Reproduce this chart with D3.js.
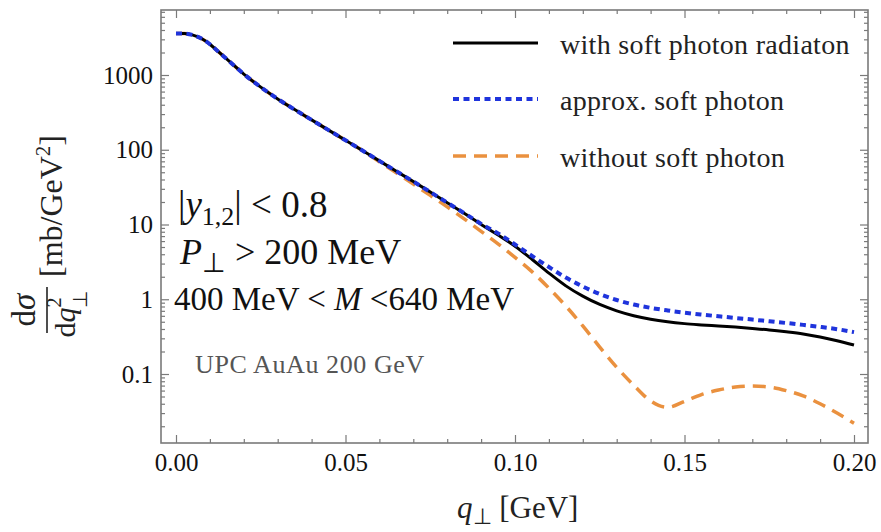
<!DOCTYPE html>
<html>
<head>
<meta charset="utf-8">
<script src="https://cdn.jsdelivr.net/npm/d3@7"></script>
<style>
  body { margin: 0; background: #fff; }
  svg text { font-family: "Liberation Serif", "Times New Roman", serif; }
</style>
</head>
<body>
<div id="chart"></div>
<script>
// q_perp grid [GeV] and cross sections [mb/GeV^2]
const qPerp = [0, 0.0025, 0.005, 0.0075, 0.01, 0.0125, 0.015, 0.02, 0.025, 0.03, 0.035, 0.04, 0.045, 0.05,
  0.055, 0.06, 0.065, 0.07, 0.075, 0.08, 0.085, 0.09, 0.095, 0.1, 0.105, 0.11, 0.115, 0.12, 0.125, 0.13,
  0.135, 0.14, 0.145, 0.15, 0.155, 0.16, 0.165, 0.17, 0.175, 0.18, 0.185, 0.19, 0.195, 0.2];

const withSoft = [3600, 3580, 3420, 3080, 2580, 2050, 1630, 1030, 689, 479, 345, 251, 183, 134,
  97.5, 71, 51.5, 37.6, 27.2, 19.6, 14.1, 10.0, 7.24, 5.13, 3.43, 2.24, 1.51, 1.10, 0.851, 0.70,
  0.603, 0.540, 0.499, 0.472, 0.454, 0.439, 0.424, 0.407, 0.389, 0.367, 0.343, 0.313, 0.279, 0.244];

const approxSoft = [3600, 3580, 3420, 3080, 2580, 2050, 1630, 1030, 689, 479, 345, 251, 183, 134,
  97.5, 71, 51.5, 37.6, 27.2, 19.6, 14.2, 10.2, 7.6, 5.4, 3.8, 2.7, 1.95, 1.48, 1.175, 0.977,
  0.851, 0.767, 0.708, 0.661, 0.624, 0.592, 0.562, 0.535, 0.507, 0.481, 0.454, 0.427, 0.398, 0.363];

const withoutSoft = [3600, 3580, 3420, 3080, 2580, 2050, 1630, 1030, 689, 479, 345, 251, 183, 134,
  97.5, 69, 49, 34.7, 24.5, 17.2, 11.9, 8.1, 5.5, 3.63, 2.34, 1.41, 0.81, 0.44, 0.229, 0.123,
  0.071, 0.0437, 0.0358, 0.043, 0.053, 0.061, 0.067, 0.069, 0.067, 0.06, 0.051, 0.040, 0.030, 0.022];

const xTicks = [0, 0.05, 0.1, 0.15, 0.2];
const xTickLabels = ["0.00", "0.05", "0.10", "0.15", "0.20"];
const yTicks = [0.1, 1, 10, 100, 1000];
const yTickLabels = ["0.1", "1", "10", "100", "1000"];

const seriesNames = ["without soft photon", "with soft photon radiaton", "approx. soft photon"];
const seriesValues = [withoutSoft, withSoft, approxSoft];

class Cross_Section_Plot {
  constructor(element, width, height, margin) {
    this.element = element;
    this.width = width;
    this.height = height;
    this.margin = margin;
    this.styles = {
      "with soft photon radiaton": { color: "#000000", width: 3, dash: null },
      "approx. soft photon": { color: "#1f34dc", width: 4, dash: "6,4.5" },
      "without soft photon": { color: "#ea913f", width: 3.5, dash: "13,8" }
    };
    this.draw();
  }

  draw() {
    this.svg = d3.select(this.element).append("svg")
      .attr("width", this.width)
      .attr("height", this.height);

    this.createScales();
    this.drawCurves();
    this.drawAxis();
    this.drawLegend();
    this.drawLabels();
  }

  createScales() {
    const m = this.margin;
    const left = m.left, right = this.width - m.right;
    // 0 -> 176px, 0.2 -> 854px, frame from 161 to 868
    const perUnit = (854 - 176) / 0.2;
    this.xScale = d3.scaleLinear()
      .domain([-(176 - left) / perUnit, 0.2 + (right - 854) / perUnit])
      .range([left, right]);

    // 1000 -> 75px, 0.1 -> 374px
    const perDecade = (374 - 75) / 4;
    const top = m.top, bottom = this.height - m.bottom;
    this.yScale = d3.scaleLog()
      .domain([Math.pow(10, -1 - (bottom - 374) / perDecade), Math.pow(10, 3 + (75 - top) / perDecade)])
      .range([bottom, top]);
  }

  drawCurves() {
    const line = d3.line()
      .x((d) => this.xScale(d[0]))
      .y((d) => this.yScale(d[1]))
      .curve(d3.curveMonotoneX);

    this.svg.append("clipPath").attr("id", "plot-clip")
      .append("rect")
      .attr("x", this.margin.left)
      .attr("y", this.margin.top)
      .attr("width", this.width - this.margin.left - this.margin.right)
      .attr("height", this.height - this.margin.top - this.margin.bottom);

    const g = this.svg.append("g").attr("clip-path", "url(#plot-clip)");
    seriesNames.forEach((name, i) => {
      const st = this.styles[name];
      g.append("path")
        .datum(qPerp.map((q, j) => [q, seriesValues[i][j]]))
        .attr("fill", "none")
        .attr("stroke", st.color)
        .attr("stroke-width", st.width)
        .attr("stroke-dasharray", st.dash)
        .attr("d", line);
    });
  }

  drawAxis() {
    const m = this.margin;
    const bottom = this.height - m.bottom, right = this.width - m.right;
    const frameColor = "#7a7a7a";

    const xMinor = d3.range(0, 0.2001, 0.01).filter((v) => Math.round(v * 100) % 5 !== 0);
    const yMinor = [];
    [-2, -1, 0, 1, 2, 3].forEach((e) => {
      for (let k = 2; k <= 9; k++) {
        const v = k * Math.pow(10, e);
        if (v >= this.yScale.domain()[0] && v <= this.yScale.domain()[1]) yMinor.push(v);
      }
    });

    const styleAxis = (g) => {
      g.select(".domain").remove();
      g.selectAll("line").attr("stroke", frameColor).attr("stroke-width", 1.2);
      g.selectAll("text").attr("font-size", 25).attr("fill", "#111")
        .attr("font-family", "'Liberation Serif', serif");
    };

    // bottom
    this.svg.append("g").attr("transform", `translate(0,${bottom})`)
      .call(d3.axisBottom(this.xScale).tickValues(xTicks)
        .tickFormat((d, i) => xTickLabels[i]).tickSize(-8).tickPadding(10))
      .call(styleAxis);
    this.svg.append("g").attr("transform", `translate(0,${bottom})`)
      .call(d3.axisBottom(this.xScale).tickValues(xMinor).tickFormat("").tickSize(-4))
      .call(styleAxis);
    // top
    this.svg.append("g").attr("transform", `translate(0,${m.top})`)
      .call(d3.axisTop(this.xScale).tickValues(xTicks).tickFormat("").tickSize(-8))
      .call(styleAxis);
    this.svg.append("g").attr("transform", `translate(0,${m.top})`)
      .call(d3.axisTop(this.xScale).tickValues(xMinor).tickFormat("").tickSize(-4))
      .call(styleAxis);
    // left
    this.svg.append("g").attr("transform", `translate(${m.left},0)`)
      .call(d3.axisLeft(this.yScale).tickValues(yTicks)
        .tickFormat((d, i) => yTickLabels[i]).tickSize(-8).tickPadding(8))
      .call(styleAxis);
    this.svg.append("g").attr("transform", `translate(${m.left},0)`)
      .call(d3.axisLeft(this.yScale).tickValues(yMinor).tickFormat("").tickSize(-4))
      .call(styleAxis);
    // right
    this.svg.append("g").attr("transform", `translate(${right},0)`)
      .call(d3.axisRight(this.yScale).tickValues(yTicks).tickFormat("").tickSize(-8))
      .call(styleAxis);
    this.svg.append("g").attr("transform", `translate(${right},0)`)
      .call(d3.axisRight(this.yScale).tickValues(yMinor).tickFormat("").tickSize(-4))
      .call(styleAxis);

    // frame
    this.svg.append("rect")
      .attr("x", m.left).attr("y", m.top)
      .attr("width", right - m.left).attr("height", bottom - m.top)
      .attr("fill", "none").attr("stroke", frameColor).attr("stroke-width", 1.6);
  }

  drawLegend() {
    const order = ["with soft photon radiaton", "approx. soft photon", "without soft photon"];
    const rowsY = [43, 99, 156];
    const legend = this.svg.append("g");
    order.forEach((name, i) => {
      const st = this.styles[name];
      legend.append("line")
        .attr("x1", 453).attr("x2", 538)
        .attr("y1", rowsY[i]).attr("y2", rowsY[i])
        .attr("stroke", st.color)
        .attr("stroke-width", st.width)
        .attr("stroke-dasharray", st.dash);
      legend.append("text")
        .attr("x", 560).attr("y", rowsY[i] + 11)
        .attr("font-size", 28)
        .attr("letter-spacing", 0.3)
        .attr("fill", "#222")
        .text(name);
    });
  }

  drawLabels() {
    const svg = this.svg;

    // cut annotations
    const t1 = svg.append("text").attr("x", 178).attr("y", 217).attr("font-size", 37).attr("fill", "#111");
    t1.append("tspan").text("|");
    t1.append("tspan").attr("font-style", "italic").text("y");
    t1.append("tspan").attr("font-size", 26).attr("dy", 8).text("1,2");
    t1.append("tspan").attr("dy", -8).text("| < 0.8");

    const t2 = svg.append("text").attr("x", 180).attr("y", 264).attr("font-size", 36).attr("fill", "#111");
    t2.append("tspan").attr("font-style", "italic").text("P");
    t2.append("tspan").attr("font-size", 27).attr("dy", 8).text("⊥");
    t2.append("tspan").attr("dy", -8).text(" > 200 MeV");

    const t3 = svg.append("text").attr("x", 174).attr("y", 310).attr("font-size", 33).attr("fill", "#111");
    t3.append("tspan").text("400 MeV < ");
    t3.append("tspan").attr("font-style", "italic").text("M");
    t3.append("tspan").text(" <640 MeV");

    svg.append("text").attr("x", 195).attr("y", 373)
      .attr("font-size", 26).attr("letter-spacing", 0.6).attr("fill", "#555")
      .text("UPC AuAu 200 GeV");

    // x axis title
    const xt = svg.append("text").attr("x", 457).attr("y", 518).attr("font-size", 31).attr("fill", "#222");
    xt.append("tspan").attr("font-style", "italic").text("q");
    xt.append("tspan").attr("font-size", 22).attr("dy", 6).text("⊥");
    xt.append("tspan").attr("dy", -6).text(" [GeV]");

    // y axis title (rotated fraction)
    const yt = svg.append("g").attr("transform", "translate(47,310) rotate(-90)").attr("fill", "#222");
    yt.append("line").attr("x1", -23).attr("x2", 23).attr("y1", 0).attr("y2", 0)
      .attr("stroke", "#222").attr("stroke-width", 1.6);
    const num = yt.append("text").attr("x", 0).attr("y", -12).attr("text-anchor", "middle").attr("font-size", 33);
    num.append("tspan").text("d");
    num.append("tspan").attr("font-style", "italic").text("σ");
    const den = yt.append("text").attr("x", -4).attr("y", 28).attr("text-anchor", "middle").attr("font-size", 30);
    den.append("tspan").text("d");
    den.append("tspan").attr("font-style", "italic").text("q");
    den.append("tspan").attr("font-size", 20).attr("dy", -14).text("2");
    den.append("tspan").attr("font-size", 20).attr("dx", -10).attr("dy", 26).text("⊥");
    const unit = yt.append("text").attr("x", 33).attr("y", 15).attr("font-size", 32);
    unit.append("tspan").text("[mb/GeV");
    unit.append("tspan").attr("font-size", 21).attr("dy", -12).text("2");
    unit.append("tspan").attr("dy", 12).text("]");
  }
}

new Cross_Section_Plot(document.getElementById("chart"), 881, 532,
  { top: 10, right: 13, bottom: 89, left: 161 });
</script>
</body>
</html>
